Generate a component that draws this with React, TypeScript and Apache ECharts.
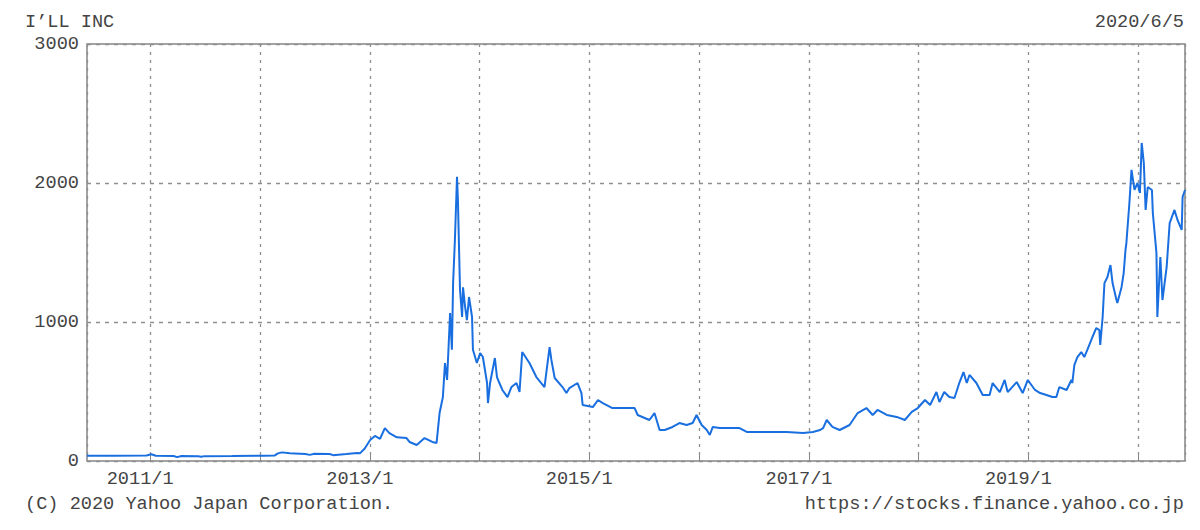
import React, { useEffect, useRef } from "react";
import * as echarts from "echarts";

const TITLE = "I’LL INC";
const DATE_LABEL = "2020/6/5";
const COPYRIGHT = "(C) 2020 Yahoo Japan Corporation.";
const SOURCE_URL = "https://stocks.finance.yahoo.co.jp";

const X_MIN = "2010-06-05";
const X_MAX = "2020-06-05";
const Y_TICKS = [0, 1000, 2000, 3000];

const dates: string[] = [
  "2010-06-05", "2010-09-01", "2010-12-20", "2011-01-05", "2011-01-20", "2011-03-20", "2011-04-01", "2011-04-15",
  "2011-06-10", "2011-06-20", "2011-07-01", "2011-10-01", "2012-01-15", "2012-02-20", "2012-03-01", "2012-03-15",
  "2012-04-10", "2012-06-01", "2012-06-15", "2012-07-01", "2012-08-20", "2012-09-01", "2012-10-15", "2012-11-20",
  "2012-11-29", "2012-12-15", "2013-01-02", "2013-01-18", "2013-02-04", "2013-02-20", "2013-03-07", "2013-04-01",
  "2013-05-03", "2013-05-13", "2013-06-06", "2013-07-02", "2013-07-28", "2013-08-11", "2013-08-21", "2013-09-01",
  "2013-09-08", "2013-09-15", "2013-09-25", "2013-10-01", "2013-10-05", "2013-10-11", "2013-10-18", "2013-10-21",
  "2013-10-28", "2013-11-04", "2013-11-07", "2013-11-14", "2013-11-20", "2013-11-27", "2013-12-07", "2013-12-10",
  "2013-12-23", "2014-01-03", "2014-01-12", "2014-01-26", "2014-01-29", "2014-02-05", "2014-02-21", "2014-02-28",
  "2014-03-08", "2014-03-18", "2014-04-04", "2014-04-17", "2014-05-04", "2014-05-14", "2014-05-23", "2014-06-16",
  "2014-07-09", "2014-08-05", "2014-08-22", "2014-08-28", "2014-09-08", "2014-10-04", "2014-10-17", "2014-10-27",
  "2014-11-23", "2014-12-06", "2014-12-10", "2015-01-13", "2015-01-30", "2015-02-15", "2015-03-19", "2015-05-05",
  "2015-06-01", "2015-06-11", "2015-07-20", "2015-08-06", "2015-08-23", "2015-09-09", "2015-10-05", "2015-10-28",
  "2015-11-21", "2015-12-11", "2015-12-24", "2016-01-10", "2016-01-27", "2016-02-06", "2016-02-16", "2016-03-10",
  "2016-05-15", "2016-06-08", "2016-08-14", "2016-10-19", "2016-12-12", "2017-01-14", "2017-02-07", "2017-02-17",
  "2017-03-01", "2017-03-20", "2017-04-13", "2017-05-16", "2017-06-12", "2017-07-11", "2017-08-01", "2017-08-17",
  "2017-09-17", "2017-10-20", "2017-11-16", "2017-12-09", "2017-12-29", "2018-01-22", "2018-02-08", "2018-03-01",
  "2018-03-11", "2018-03-27", "2018-04-13", "2018-04-30", "2018-05-16", "2018-05-30", "2018-06-10", "2018-06-19",
  "2018-07-12", "2018-08-02", "2018-08-25", "2018-09-04", "2018-09-28", "2018-10-14", "2018-10-24", "2018-11-23",
  "2018-12-13", "2018-12-30", "2019-01-23", "2019-02-09", "2019-03-02", "2019-03-22", "2019-04-04", "2019-04-14",
  "2019-05-08", "2019-05-24", "2019-05-27", "2019-06-03", "2019-06-13", "2019-06-26", "2019-07-06", "2019-07-16",
  "2019-08-02", "2019-08-15", "2019-08-25", "2019-08-28", "2019-09-05", "2019-09-11", "2019-09-21", "2019-10-01",
  "2019-10-08", "2019-10-21", "2019-10-24", "2019-11-07", "2019-11-14", "2019-11-20", "2019-11-23", "2019-12-03",
  "2019-12-10", "2019-12-20", "2019-12-30", "2020-01-07", "2020-01-13", "2020-01-20", "2020-01-26", "2020-02-02",
  "2020-02-16", "2020-02-19", "2020-03-02", "2020-03-05", "2020-03-15", "2020-03-22", "2020-04-05", "2020-04-15",
  "2020-05-01", "2020-05-11", "2020-05-25", "2020-05-28", "2020-06-05",
];

const prices: number[] = [
  38, 37, 40, 48, 38, 36, 28, 36,
  34, 30, 35, 36, 38, 40, 55, 62,
  55, 50, 44, 52, 50, 42, 50, 58,
  55, 90, 151, 180, 160, 237, 200, 170,
  165, 137, 115, 165, 137, 130, 345, 460,
  705, 583, 1065, 800, 1280, 1590, 2045, 1880,
  1230, 1036, 1250, 1108, 1014, 1180, 1036, 800,
  705, 777, 748, 561, 417, 561, 741, 604,
  561, 511, 460, 532, 561, 496, 784, 705,
  604, 532, 820, 727, 597, 532, 489, 525,
  561, 489, 403, 388, 439, 417, 381, 381,
  381, 331, 295, 345, 223, 223, 245, 273,
  259, 273, 331, 259, 223, 187, 245, 237,
  237, 209, 209, 209, 201, 209, 223, 237,
  295, 245, 223, 259, 345, 381, 331, 367,
  331, 317, 295, 353, 381, 439, 403, 496,
  424, 496, 460, 453, 561, 640, 561, 619,
  561, 475, 475, 561, 496, 583, 496, 568,
  489, 583, 511, 489, 475, 460, 460, 532,
  511, 583, 561, 691, 748, 784, 748, 799,
  892, 957, 942, 835, 1036, 1280, 1324, 1410,
  1280, 1158, 1137, 1252, 1352, 1518, 1568, 1856,
  2094, 1950, 2000, 1928, 2288, 2144, 1806, 1971,
  1950, 1784, 1496, 1036, 1468, 1158, 1396, 1712,
  1806, 1734, 1662, 1899, 1950,
];

const FONT = "'Liberation Mono', 'DejaVu Sans Mono', monospace";
const FONT_SIZE = 18.6;
const TEXT_COLOR = "#444";
const GRID_COLOR = "#8f8f8f";

export default function App() {
  const ref = useRef<HTMLDivElement>(null);
  useEffect(() => {
    if (!ref.current) return;
    const chart = echarts.init(ref.current, undefined, { renderer: "svg" });
    const seriesData = dates.map((d, i) => [d, prices[i]]);
    chart.setOption({
      animation: false,
      backgroundColor: "#fff",
      grid: {
        left: 87,
        right: 15,
        top: 44,
        bottom: 69,
        show: true,
        borderColor: "#858585",
        borderWidth: 1.5,
        backgroundColor: "transparent",
      },
      xAxis: {
        type: "time",
        min: X_MIN,
        max: X_MAX,
        splitNumber: 10,
        minInterval: 365 * 86400000,
        maxInterval: 366 * 86400000,
        axisLine: { show: false },
        axisTick: { show: true, inside: true, length: 6, lineStyle: { color: "#858585", width: 1 } },
        axisLabel: {
          color: TEXT_COLOR,
          fontFamily: FONT,
          fontSize: FONT_SIZE,
          margin: 9,
          padding: [0, 20, 0, 0],
          hideOverlap: false,
          formatter: (val: number) => {
            const d = new Date(val);
            return d.getMonth() === 0 && d.getDate() === 1 && d.getFullYear() % 2 === 1
              ? `${d.getFullYear()}/1`
              : "";
          },
        },
        splitLine: { show: true, lineStyle: { color: GRID_COLOR, type: [3, 5], width: 1.3 } },
      },
      yAxis: {
        type: "value",
        min: Y_TICKS[0],
        max: Y_TICKS[Y_TICKS.length - 1],
        interval: 1000,
        axisLine: { show: false },
        axisTick: { show: false },
        axisLabel: {
          color: TEXT_COLOR,
          fontFamily: FONT,
          fontSize: FONT_SIZE,
          margin: 8,
          formatter: (v: number) => String(v),
        },
        splitLine: { show: true, lineStyle: { color: GRID_COLOR, type: [4, 5], width: 1.3 } },
      },
      series: [
        {
          type: "line",
          data: seriesData,
          showSymbol: false,
          symbol: "none",
          lineStyle: { color: "#1a6fe0", width: 2 },
          z: 5,
        },
      ],
      graphic: [
        { type: "text", left: 25, top: 13, style: { text: TITLE, font: `${FONT_SIZE}px ${FONT}`, fill: TEXT_COLOR } },
        { type: "text", right: 16, top: 13, style: { text: DATE_LABEL, font: `${FONT_SIZE}px ${FONT}`, fill: TEXT_COLOR } },
        { type: "text", left: 25, top: 495, style: { text: COPYRIGHT, font: `${FONT_SIZE}px ${FONT}`, fill: TEXT_COLOR } },
        { type: "text", right: 16, top: 495, style: { text: SOURCE_URL, font: `${FONT_SIZE}px ${FONT}`, fill: TEXT_COLOR } },
      ],
    });
    return () => chart.dispose();
  }, []);
  return (
    <div
      ref={ref}
      style={{ position: "fixed", left: 0, top: 0, width: 1200, height: 530, background: "#fff" }}
    />
  );
}
